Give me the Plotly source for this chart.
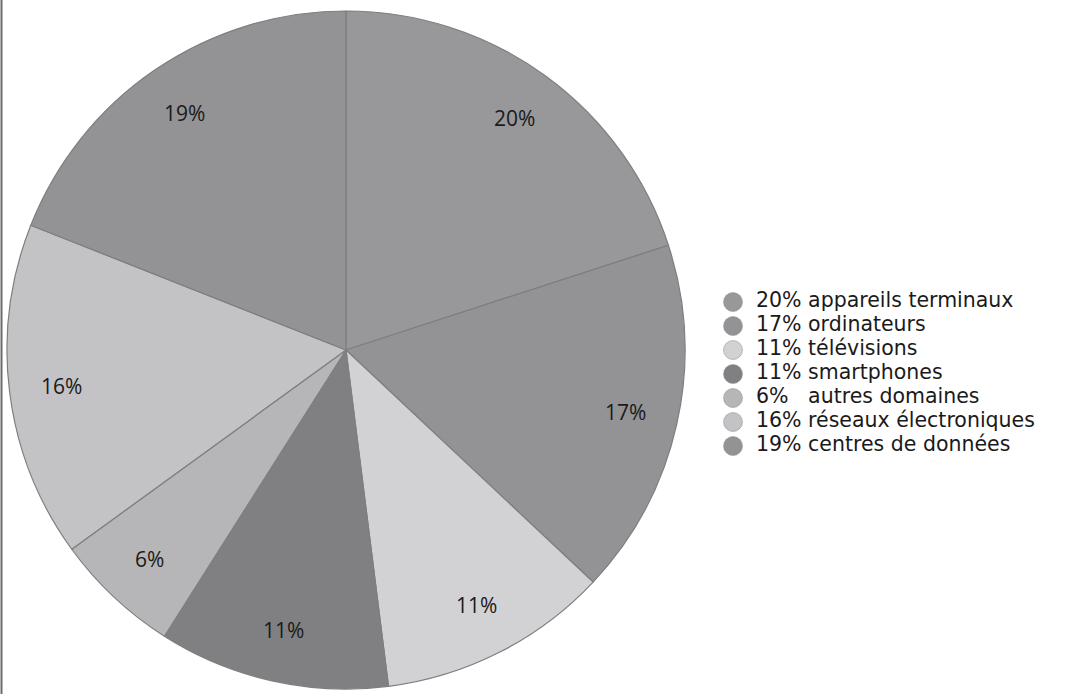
import math
import plotly.graph_objects as go

categories = ["appareils terminaux", "ordinateurs", "télévisions", "smartphones",
              "autres domaines", "réseaux électroniques", "centres de données"]
values = [20, 17, 11, 11, 6, 16, 19]
slice_labels = ["20%", "17%", "11%", "11%", "6%", "16%", "19%"]
legend_labels = ["20% appareils terminaux", "17% ordinateurs", "11% télévisions",
                 "11% smartphones", "6%   autres domaines", "16% réseaux électroniques",
                 "19% centres de données"]
colors = ["#98989a", "#939395", "#d2d2d4", "#808082", "#b6b6b8", "#c3c3c5", "#939395"]

W, H = 1065, 694
cx, cy, r = 346, 350, 339          # pie centre / radius in pixels
label_rfrac = 0.845                 # radial position of slice labels

fig = go.Figure()
fig.add_trace(go.Pie(
    labels=categories, values=values, sort=False, direction="clockwise", rotation=0,
    marker=dict(colors=colors, line=dict(color="#7e7e80", width=1.2)),
    textinfo="none", showlegend=False, hoverinfo="label+percent",
    domain=dict(x=[(cx - r) / W, (cx + r) / W], y=[(H - cy - r) / H, (H - cy + r) / H]),
))

# slice labels placed at mid-angle of each slice (derived from values)
total = sum(values)
annotations = []
cum = 0
for v, txt in zip(values, slice_labels):
    mid = (cum + v / 2) / total * 2 * math.pi
    cum += v
    px = cx + label_rfrac * r * math.sin(mid)
    py = cy - label_rfrac * r * math.cos(mid)
    annotations.append(dict(x=px / W, y=1 - py / H, xref="paper", yref="paper",
                            xanchor="center", yanchor="middle",
                            text=txt, showarrow=False,
                            font=dict(family="Open Sans", size=21, color="#1a1a1a")))

# custom legend (circle markers + text) on hidden axes
rows = list(range(len(legend_labels)))
leg_top, row_h = 290, 24
marker_x, text_x = 733, 756
fig.add_trace(go.Scatter(x=[marker_x / W] * len(rows), y=rows, mode="markers",
                         marker=dict(symbol="circle", size=19, color=colors,
                                     line=dict(color="#8a8a8c", width=0.5)),
                         showlegend=False, hoverinfo="skip", cliponaxis=False))
fig.add_trace(go.Scatter(x=[text_x / W] * len(rows), y=rows, mode="text",
                         text=legend_labels, textposition="middle right",
                         textfont=dict(family="DejaVu Sans", size=20.5, color="#1a1a1a"),
                         showlegend=False, hoverinfo="skip", cliponaxis=False))

n = len(rows)
fig.update_layout(
    width=W, height=H, margin=dict(l=0, r=0, t=0, b=0),
    paper_bgcolor="white", plot_bgcolor="rgba(0,0,0,0)",
    xaxis=dict(visible=False, range=[0, 1], domain=[0, 1], fixedrange=True),
    yaxis=dict(visible=False, range=[n - 0.5, -0.5],
               domain=[1 - (leg_top + n * row_h) / H, 1 - leg_top / H], fixedrange=True),
    annotations=annotations,
    shapes=[dict(type="line", xref="paper", yref="paper", x0=1.5 / W, x1=1.5 / W, y0=0, y1=1,
                 line=dict(color="#6a6a6a", width=2))],
)
fig.write_html("out.html", config={"displayModeBar": False},
               post_script="document.body.style.margin='0px';")
